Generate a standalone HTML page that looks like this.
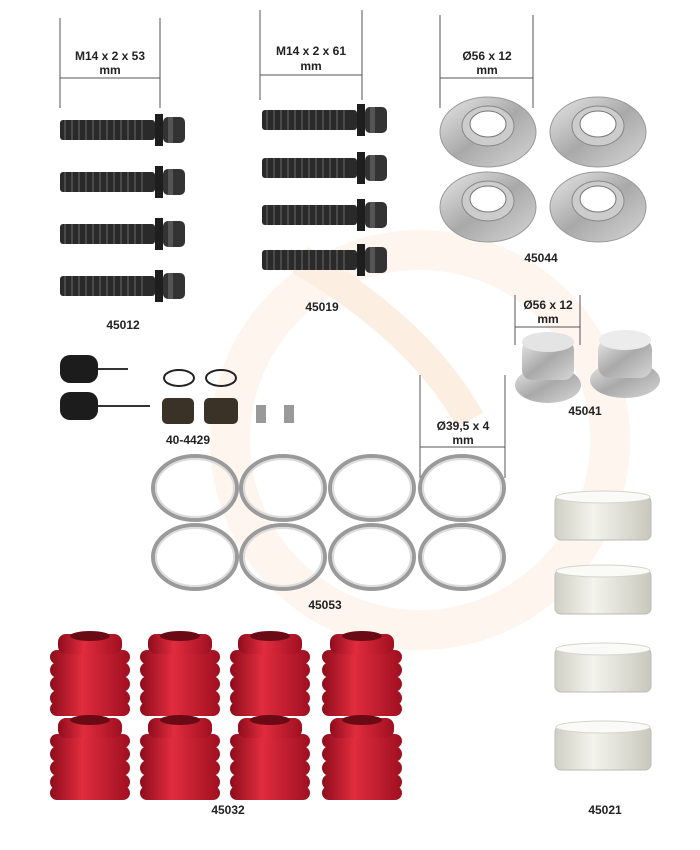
<!DOCTYPE html>
<html><head><meta charset="utf-8"><style>
html,body{margin:0;padding:0;background:#fff;}
svg{display:block;}
text{font-family:"Liberation Sans",sans-serif;font-weight:bold;font-size:12px;fill:#222;text-anchor:middle;}
</style></head><body>
<svg width="700" height="850" viewBox="0 0 700 850" xmlns="http://www.w3.org/2000/svg">
<defs>
<linearGradient id="metal" x1="0" y1="0" x2="1" y2="1"><stop offset="0" stop-color="#e8e8e8"/><stop offset="0.5" stop-color="#a9a9a9"/><stop offset="1" stop-color="#d6d6d6"/></linearGradient>
<linearGradient id="red" x1="0" y1="0" x2="1" y2="0"><stop offset="0" stop-color="#8e0d1c"/><stop offset="0.4" stop-color="#e02c3e"/><stop offset="1" stop-color="#a01020"/></linearGradient>
<linearGradient id="wht" x1="0" y1="0" x2="1" y2="0"><stop offset="0" stop-color="#cfcfc4"/><stop offset="0.4" stop-color="#f4f4ee"/><stop offset="1" stop-color="#c8c8bd"/></linearGradient>
<g id="bolt"><rect x="0" y="-10" width="95" height="20" rx="3" fill="#2a2a2a"/>
<path d="M5 -10v20M12 -10v20M19 -10v20M26 -10v20M33 -10v20M40 -10v20M47 -10v20M54 -10v20M61 -10v20M68 -10v20M75 -10v20M82 -10v20" stroke="#555" stroke-width="1.5"/>
<rect x="95" y="-16" width="8" height="32" fill="#1e1e1e"/><rect x="103" y="-13" width="22" height="26" rx="5" fill="#333"/><rect x="108" y="-13" width="5" height="26" fill="#555"/></g>
<g id="cup"><ellipse cx="0" cy="0" rx="48" ry="35" fill="url(#metal)" stroke="#999"/><ellipse cx="0" cy="-6" rx="26" ry="20" fill="#ccc" stroke="#888"/><ellipse cx="0" cy="-8" rx="18" ry="13" fill="#fff" stroke="#777"/></g>
<g id="ring"><ellipse cx="0" cy="0" rx="42" ry="32" fill="none" stroke="#9a9a9a" stroke-width="4"/><ellipse cx="0" cy="0" rx="39" ry="29" fill="none" stroke="#dcdcdc" stroke-width="2"/></g>
<g id="boot"><rect x="-40" y="-26" width="80" height="14" rx="7" fill="url(#red)"/><rect x="-32" y="-42" width="64" height="20" rx="8" fill="url(#red)"/><rect x="-40" y="-14" width="80" height="16" rx="8" fill="url(#red)"/><rect x="-40" y="0" width="80" height="16" rx="8" fill="url(#red)"/><rect x="-40" y="14" width="80" height="16" rx="8" fill="url(#red)"/><rect x="-40" y="26" width="80" height="14" rx="7" fill="url(#red)"/><ellipse cx="0" cy="-40" rx="20" ry="5" fill="#6a0a14"/></g>
<g id="bush"><rect x="-48" y="-22" width="96" height="44" rx="6" fill="url(#wht)" stroke="#bbb"/><ellipse cx="0" cy="-21" rx="47" ry="6" fill="#fafaf6" stroke="#d4d4cc"/></g>
</defs>
<circle cx="420" cy="440" r="190" fill="none" stroke="#fef5ef" stroke-width="40"/>
<path d="M300 260 Q420 330 470 420" stroke="#fdeee2" stroke-width="30" fill="none"/>
<g stroke="#555" stroke-width="1" fill="none">
<path d="M60 18V108M160 18V108M60 78H160"/>
<path d="M260 10V100M362 10V100M260 75H362"/>
<path d="M440 15V108M533 15V108M440 78H533"/>
<path d="M515 295V345M580 295V345M515 327H580"/>
<path d="M420 375V478M505 375V478M420 447H505"/>
</g>
<text x="110" y="60">M14 x 2 x 53</text><text x="110" y="74">mm</text>
<text x="311" y="55">M14 x 2 x 61</text><text x="311" y="70">mm</text>
<text x="487" y="60">Ø56 x 12</text><text x="487" y="74">mm</text>
<text x="548" y="309">Ø56 x 12</text><text x="548" y="323">mm</text>
<text x="463" y="430">Ø39,5 x 4</text><text x="463" y="444">mm</text>
<use href="#bolt" x="60" y="130"/><use href="#bolt" x="60" y="182"/><use href="#bolt" x="60" y="234"/><use href="#bolt" x="60" y="286"/>
<use href="#bolt" x="262" y="120"/><use href="#bolt" x="262" y="168"/><use href="#bolt" x="262" y="215"/><use href="#bolt" x="262" y="260"/>
<use href="#cup" x="488" y="132"/><use href="#cup" x="598" y="132"/><use href="#cup" x="488" y="207"/><use href="#cup" x="598" y="207"/>
<g><ellipse cx="548" cy="385" rx="33" ry="18" fill="url(#metal)"/><rect x="522" y="340" width="52" height="40" rx="10" fill="url(#metal)"/><ellipse cx="548" cy="342" rx="26" ry="10" fill="#e4e4e4"/></g>
<g><ellipse cx="625" cy="380" rx="35" ry="18" fill="url(#metal)"/><rect x="598" y="338" width="54" height="40" rx="12" fill="url(#metal)"/><ellipse cx="625" cy="340" rx="26" ry="10" fill="#ececec"/></g>
<g fill="#1c1c1c"><rect x="60" y="355" width="38" height="28" rx="10"/><rect x="60" y="392" width="38" height="28" rx="10"/></g>
<path d="M98 369H128M98 406H150" stroke="#333" stroke-width="2"/>
<ellipse cx="179" cy="378" rx="15" ry="8" fill="none" stroke="#222" stroke-width="2"/><ellipse cx="221" cy="378" rx="15" ry="8" fill="none" stroke="#222" stroke-width="2"/>
<rect x="162" y="398" width="32" height="26" rx="5" fill="#3a3226"/><rect x="204" y="398" width="34" height="26" rx="5" fill="#3a3226"/>
<rect x="256" y="405" width="10" height="18" fill="#999"/><rect x="284" y="405" width="10" height="18" fill="#999"/>
<use href="#ring" x="195" y="488"/><use href="#ring" x="283" y="488"/><use href="#ring" x="372" y="488"/><use href="#ring" x="462" y="488"/>
<use href="#ring" x="195" y="557"/><use href="#ring" x="283" y="557"/><use href="#ring" x="372" y="557"/><use href="#ring" x="462" y="557"/>
<use href="#boot" x="90" y="676"/><use href="#boot" x="180" y="676"/><use href="#boot" x="270" y="676"/><use href="#boot" x="362" y="676"/>
<use href="#boot" x="90" y="760"/><use href="#boot" x="180" y="760"/><use href="#boot" x="270" y="760"/><use href="#boot" x="362" y="760"/>
<use href="#bush" x="603" y="518"/><use href="#bush" x="603" y="592"/><use href="#bush" x="603" y="670"/><use href="#bush" x="603" y="748"/>
<text x="123" y="329">45012</text><text x="322" y="311">45019</text><text x="541" y="262">45044</text><text x="585" y="415">45041</text>
<text x="188" y="444">40-4429</text><text x="325" y="609">45053</text><text x="228" y="814">45032</text><text x="605" y="814">45021</text>
</svg>
</body></html>
